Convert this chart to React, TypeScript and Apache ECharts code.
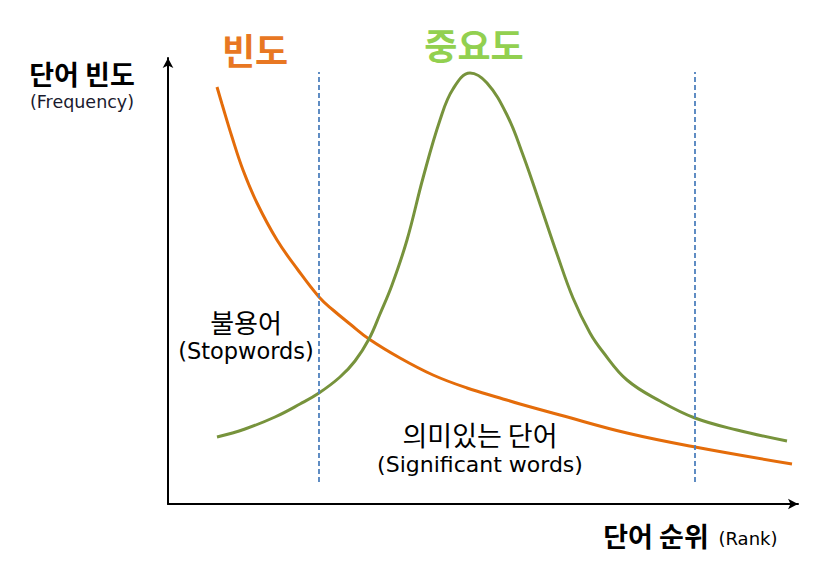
import React, { useEffect, useRef } from "react";
import * as echarts from "echarts";

// Rank (x) and value (y) readings, in axis units (0..630 by 0..446)
const frequencyX = [49, 54, 64, 75, 89, 109, 130, 151, 165, 182, 201, 232, 265, 299, 332, 352, 392, 459, 527, 624];
const frequencyY = [417, 400, 367, 334, 301, 264, 234, 207, 194, 180, 165, 146, 129, 116, 106, 100, 89, 71, 57, 40];

const importanceX = [49, 77, 107, 132, 151, 172, 187, 201, 212, 224, 239, 255, 272, 285, 302, 319, 339, 355, 372, 389, 405, 422, 435, 459, 492, 527, 569, 619];
const importanceY = [67, 75, 87, 100, 111, 127, 143, 165, 190, 219, 264, 326, 384, 415, 431, 421, 389, 349, 300, 250, 206, 171, 152, 124, 103, 86, 74, 63];

// Dashed boundaries between stopwords / significant words / rare words
const dividerX = [151, 527];
const dividerRange = [22, 432];

const xMax = 630;
const yMax = 446;

const KR = '"Noto Sans CJK KR", sans-serif';
const LAT = '"DejaVu Sans", "Noto Sans CJK KR", sans-serif';

export default function App() {
  const ref = useRef<HTMLDivElement>(null);

  useEffect(() => {
    document.body.style.margin = "0";
    const chart = echarts.init(ref.current!, null, { renderer: "svg" });
    const zip = (xs: number[], ys: number[]) => xs.map((x, i) => [x, ys[i]]);
    const txt = (text: string, x: number, y: number, font: string, fill = "#000") => ({
      type: "text",
      x,
      y,
      style: { text, font, fill, align: "center", verticalAlign: "middle" },
    });

    chart.setOption({
      animation: false,
      grid: { left: 168, right: 36, top: 58, bottom: 72 },
      xAxis: {
        type: "value",
        min: 0,
        max: xMax,
        axisLine: {
          show: true,
          symbol: ["none", "arrow"],
          symbolSize: [8, 10],
          lineStyle: { color: "#000", width: 2 },
        },
        axisTick: { show: false },
        axisLabel: { show: false },
        splitLine: { show: false },
      },
      yAxis: {
        type: "value",
        min: 0,
        max: yMax,
        axisLine: {
          show: true,
          symbol: ["none", "arrow"],
          symbolSize: [8, 10],
          lineStyle: { color: "#000", width: 2 },
        },
        axisTick: { show: false },
        axisLabel: { show: false },
        splitLine: { show: false },
      },
      series: [
        {
          name: "빈도",
          type: "line",
          data: zip(frequencyX, frequencyY),
          smooth: 0.4,
          showSymbol: false,
          lineStyle: { color: "#E46C0A", width: 3 },
          z: 3,
          markLine: {
            silent: true,
            symbol: ["none", "none"],
            label: { show: false },
            lineStyle: { color: "#4F81BD", width: 1.8, type: [5, 3] },
            data: dividerX.map((x) => [
              { coord: [x, dividerRange[0]] },
              { coord: [x, dividerRange[1]] },
            ]),
          },
        },
        {
          name: "중요도",
          type: "line",
          data: zip(importanceX, importanceY),
          smooth: 0.4,
          showSymbol: false,
          lineStyle: { color: "#77933C", width: 3 },
          z: 3,
        },
      ],
      graphic: [
        txt("단어 빈도", 82, 73, `bold 27px ${KR}`),
        txt("(Frequency)", 82, 102, `17.5px ${LAT}`, "#1a1a2e"),
        txt("빈도", 255, 49, `bold 36px ${KR}`, "#E87722"),
        txt("중요도", 474, 44, `bold 36px ${KR}`, "#92D050"),
        txt("불용어", 246, 321, `26px ${KR}`),
        txt("(Stopwords)", 246, 351, `22.5px ${LAT}`),
        txt("의미있는 단어", 480, 434, `27px ${KR}`),
        txt("(Significant words)", 480, 464, `22px ${LAT}`),
        txt("단어 순위", 656, 535, `bold 27px ${KR}`),
        txt("(Rank)", 748, 538, `18px ${LAT}`),
      ],
    });
    return () => chart.dispose();
  }, []);

  return <div ref={ref} style={{ width: 834, height: 576 }} />;
}
